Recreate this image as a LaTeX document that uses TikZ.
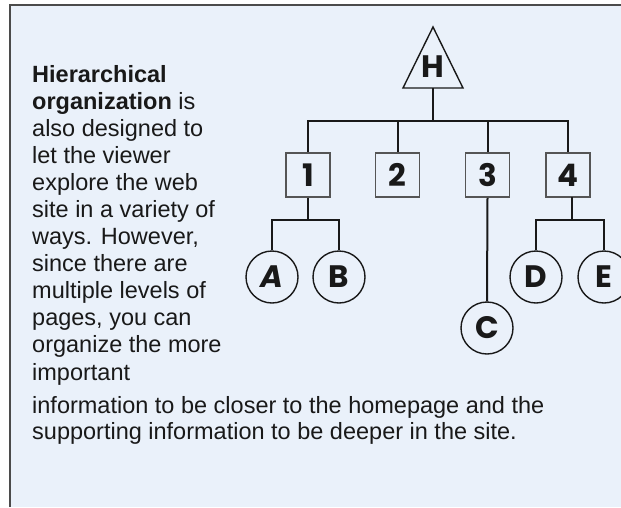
\documentclass[tikz,border=0pt]{standalone}
\usepackage{fontspec}
\setmainfont{Liberation Sans}
\newfontfamily\diagfont{Poppins}
\usetikzlibrary{shapes.geometric}
\definecolor{bgblue}{RGB}{234,241,250}
\definecolor{framegray}{RGB}{75,75,75}
\definecolor{linec}{RGB}{25,25,25}
\definecolor{boxc}{RGB}{85,85,85}
\definecolor{textc}{RGB}{25,25,25}
\begin{document}
\begin{tikzpicture}[x=1pt,y=-1pt,
  link/.style={draw=linec,line width=2pt},
  labelfont/.style={font=\diagfont\bfseries\fontsize{31}{31}\selectfont,text=linec},
  pagebox/.style={labelfont,draw=boxc,line width=1.6pt,minimum width=44pt,minimum height=44pt,inner sep=0pt},
  leaf/.style={labelfont,circle,draw=linec,line width=1.4pt,minimum size=52pt,inner sep=0pt},
  txt/.style={anchor=base west,inner sep=0pt,font=\fontsize{23.5}{27}\selectfont,text=textc}]
\useasboundingbox (0,0) rectangle (621,507);
\fill[white] (0,0) rectangle (621,507);
\fill[bgblue] (10,6) rectangle (621,507);
\draw[framegray,line width=2pt] (9.5,507) -- (9.5,5) -- (621,5);

% home triangle
\coordinate (Htop) at (433,27);
\coordinate (Hleft) at (403,88);
\coordinate (Hright) at (463,88);
\coordinate (Hbase) at (433,88);
\draw[draw=linec,line width=1.4pt,line join=miter] (Htop) -- (Hleft) -- (Hright) -- cycle;
\node[labelfont,inner sep=0pt] (H) at (433,67) {H};
\coordinate (bus) at (433,121);

% level 1
\node[pagebox] (p1) at (308,175) {1};
\node[pagebox] (p2) at (397.5,175) {2};
\node[pagebox] (p3) at (487.5,175) {3};
\node[pagebox] (p4) at (568,175) {4};

% level 2
\node[leaf] (A) at (272,277) {\itshape A};
\node[leaf] (B) at (339,277) {B};
\node[leaf] (C) at (487,328) {C};
\node[leaf] (D) at (536,277) {D};
\node[leaf] (E) at (604,277) {E};

% connectors
\draw[link] (Hbase) -- (bus);
\draw[link] (p1.north) |- (bus) -| (p4.north);
\draw[link] (p2.north) -- (p2.north |- bus);
\draw[link] (p3.north) -- (p3.north |- bus);
\coordinate (b1) at (308,220);
\draw[link] (p1.south) -- (b1);
\draw[link] (A.north) |- (b1) -| (B.north);
\draw[link] (p3.south) -- (C.north);
\coordinate (p4s) at (572,197);
\coordinate (b4) at (572,220);
\draw[link] (p4s) -- (b4);
\draw[link] (D.north) |- (b4) -| (E.north);

% text
\node[txt] (t1) at (32,82) {\textbf{Hierarchical}};
\node[txt] (t2) at (32,109) {\textbf{organization} is};
\node[txt] (t3) at (32,136) {also designed to};
\node[txt] (t4) at (32,163) {let the viewer};
\node[txt] (t5) at (32,190) {explore the web};
\node[txt] (t6) at (32,217) {site in a variety of};
\node[txt] (t7) at (32,244) {ways. However,};
\node[txt] (t8) at (32,271) {since there are};
\node[txt] (t9) at (32,298) {multiple levels of};
\node[txt] (t10) at (32,325) {pages, you can};
\node[txt] (t11) at (32,352) {organize the more};
\node[txt] (t12) at (32,380) {important};
\node[txt] (t13) at (32,413) {information to be closer to the homepage and the};
\node[txt] (t14) at (32,439) {supporting information to be deeper in the site.};
\end{tikzpicture}
\end{document}
